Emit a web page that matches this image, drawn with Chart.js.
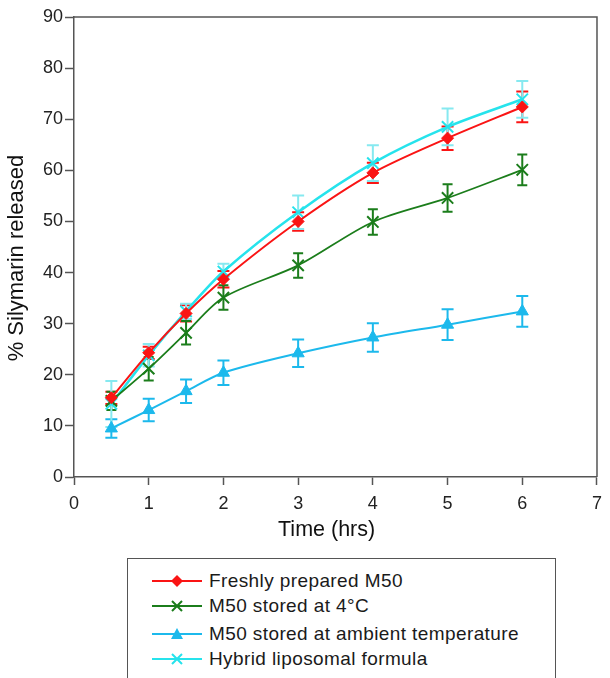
<!DOCTYPE html>
<html>
<head>
<meta charset="utf-8">
<script src="https://cdn.jsdelivr.net/npm/chart.js@4.4.1/dist/chart.umd.min.js"></script>
<style>
  html, body { margin: 0; padding: 0; background: #fff; }
  body { width: 610px; height: 678px; position: relative; overflow: hidden; font-family: "Liberation Sans", Arial, sans-serif; }
  #wrap { position: absolute; left: 0; top: 0; width: 610px; height: 545px; }
  #legend { position: absolute; left: 127px; top: 558px; width: 429px; height: 140px; border: 1.5px solid #555; box-sizing: border-box; }
  .row { position: absolute; left: 24px; height: 24px; display: flex; align-items: center; font-size: 19px; letter-spacing: 0.4px; color: #1a1a1a; }
  .row svg { margin-right: 7px; }
</style>
</head>
<body>
<div id="wrap"><canvas id="c" width="610" height="545"></canvas></div>
<div id="legend"></div>
<script>
// ---- data ----
const times = [0.5, 1, 1.5, 2, 3, 4, 5, 6];
const freshM50 = [15.5, 24.3, 32.0, 38.7, 50.0, 59.5, 66.3, 72.4];
const freshErr = [1.2, 1.2, 1.6, 1.6, 1.8, 2.0, 2.3, 3.0];
const stored4C = [14.9, 21.2, 28.2, 35.1, 41.4, 49.9, 54.6, 60.1];
const stored4CErr = [1.8, 2.3, 2.3, 2.4, 2.4, 2.5, 2.7, 3.0];
const storedAmbient = [9.5, 13.1, 16.8, 20.4, 24.2, 27.3, 29.8, 32.4];
const storedAmbientErr = [1.8, 2.2, 2.3, 2.4, 2.7, 2.8, 3.0, 3.0];
const hybrid = [14.3, 23.8, 32.4, 40.2, 51.8, 61.4, 68.5, 73.9];
const hybridErr = [4.5, 2.2, 1.5, 1.5, 3.3, 3.5, 3.6, 3.6];
const seriesNames = ["Freshly prepared M50", "M50 stored at 4°C", "M50 stored at ambient temperature", "Hybrid liposomal formula"];
const xTicks = [0, 1, 2, 3, 4, 5, 6, 7];
const yTicks = [0, 10, 20, 30, 40, 50, 60, 70, 80, 90];
const xTitle = 'Time (hrs)';
const yTitle = '% Silymarin released';

const RED = '#fa1414', GREEN = '#1b7d1b', BLUE = '#1cb9ec', CYAN = '#26e3ec', CYAN_ERR = '#86e9f0';
const AXIS = '#555';
const FAMILY = '"Liberation Sans", Arial, sans-serif';

function pts(vals) { return times.map((t, i) => ({ x: t, y: vals[i] })); }

const datasets = [
  { label: seriesNames[0], data: pts(freshM50), err: freshErr, errColor: RED, capW: 6,
    borderColor: RED, backgroundColor: RED, borderWidth: 2, pointStyle: 'rectRot', pointRadius: 6, pointBorderWidth: 1 },
  { label: seriesNames[1], data: pts(stored4C), err: stored4CErr, errColor: GREEN, capW: 5,
    borderColor: GREEN, backgroundColor: GREEN, borderWidth: 1.8, pointStyle: 'crossRot', pointRadius: 8, pointBorderWidth: 2 },
  { label: seriesNames[2], data: pts(storedAmbient), err: storedAmbientErr, errColor: BLUE, capW: 6,
    borderColor: BLUE, backgroundColor: BLUE, borderWidth: 2, pointStyle: 'triangle', pointRadius: 7, pointBorderWidth: 1 },
  { label: seriesNames[3], data: pts(hybrid), err: hybridErr, errColor: CYAN_ERR, capW: 6,
    borderColor: CYAN, backgroundColor: CYAN, borderWidth: 2.5, pointStyle: 'crossRot', pointRadius: 8, pointBorderWidth: 2 }
];
datasets.forEach(d => { d.tension = 0.3; d.fill = false; d.pointHoverRadius = d.pointRadius; });

const errorBars = {
  id: 'errorBars',
  beforeDatasetsDraw(chart) {
    const { ctx, scales: { x, y } } = chart;
    ctx.save();
    chart.data.datasets.forEach(ds => {
      ctx.strokeStyle = ds.errColor;
      ctx.lineWidth = 2;
      ds.data.forEach((p, i) => {
        const px = x.getPixelForValue(p.x);
        const top = y.getPixelForValue(p.y + ds.err[i]);
        const bot = y.getPixelForValue(p.y - ds.err[i]);
        ctx.beginPath();
        ctx.moveTo(px, top); ctx.lineTo(px, bot);
        ctx.moveTo(px - ds.capW, top); ctx.lineTo(px + ds.capW, top);
        ctx.moveTo(px - ds.capW, bot); ctx.lineTo(px + ds.capW, bot);
        ctx.stroke();
      });
    });
    ctx.restore();
  }
};

const frameAndTitles = {
  id: 'frameAndTitles',
  afterDraw(chart) {
    const { ctx, chartArea: a } = chart;
    ctx.save();
    ctx.strokeStyle = AXIS;
    ctx.lineWidth = 1.5;
    ctx.beginPath();
    ctx.moveTo(a.left, a.top); ctx.lineTo(a.right, a.top); ctx.lineTo(a.right, a.bottom);
    ctx.stroke();
    // axis titles
    ctx.fillStyle = '#111';
    ctx.textAlign = 'center';
    ctx.textBaseline = 'middle';
    ctx.font = '21.5px ' + FAMILY;
    ctx.fillText(xTitle, a.left + (a.right - a.left) * 0.483, a.bottom + 53);
    ctx.translate(17, a.top + (a.bottom - a.top) * 0.524);
    ctx.rotate(-Math.PI / 2);
    ctx.font = '22px ' + FAMILY;
    ctx.fillText(yTitle, 0, 0);
    ctx.restore();
  }
};

const tickFont = { family: FAMILY, size: 18 };

new Chart(document.getElementById('c'), {
  type: 'line',
  data: { datasets },
  options: {
    responsive: false,
    animation: false,
    layout: { padding: { left: 0, right: 6, top: 17, bottom: 0 } },
    plugins: { legend: { display: false }, tooltip: { enabled: false } },
    scales: {
      x: {
        type: 'linear', min: 0, max: 7,
        afterBuildTicks: s => { s.ticks = xTicks.map(v => ({ value: v })); },
        afterFit: s => { s.height = 68; },
        ticks: { font: tickFont, color: '#222', padding: 8, maxRotation: 0 },
        grid: { drawOnChartArea: false, drawTicks: true, tickLength: 8, color: AXIS, tickWidth: 1.5 },
        border: { color: AXIS, width: 1.5 },
        title: { display: false }
      },
      y: {
        type: 'linear', min: 0, max: 90,
        afterBuildTicks: s => { s.ticks = yTicks.map(v => ({ value: v })); },
        afterFit: s => { s.width = 74; },
        ticks: { font: tickFont, color: '#222', padding: 2 },
        grid: { drawOnChartArea: false, drawTicks: true, tickLength: 9, color: AXIS, tickWidth: 1.5 },
        border: { color: AXIS, width: 1.5 },
        title: { display: false }
      }
    }
  },
  plugins: [errorBars, frameAndTitles]
});

// ---- HTML legend ----
function glyph(color, shape) {
  let m = '';
  if (shape === 'diamond') m = `<polygon points="25,1 31,7 25,13 19,7" fill="${color}"/>`;
  else if (shape === 'triangle') m = `<polygon points="25,1 31,12 19,12" fill="${color}"/>`;
  else m = `<path d="M20,2 L30,12 M30,2 L20,12" stroke="${color}" stroke-width="2"/>`;
  return `<svg width="50" height="14" viewBox="0 0 50 14"><line x1="0" y1="7" x2="50" y2="7" stroke="${color}" stroke-width="2"/>${m}</svg>`;
}
const legendShapes = ['diamond', 'cross', 'triangle', 'cross'];
const legendColors = [RED, GREEN, BLUE, CYAN];
const rowTops = [10, 35, 63, 88];
const lg = document.getElementById('legend');
seriesNames.forEach((n, i) => {
  const r = document.createElement('div');
  r.className = 'row';
  r.style.top = rowTops[i] + 'px';
  r.innerHTML = glyph(legendColors[i], legendShapes[i]) + '<span>' + n + '</span>';
  lg.appendChild(r);
});
</script>
</body>
</html>
